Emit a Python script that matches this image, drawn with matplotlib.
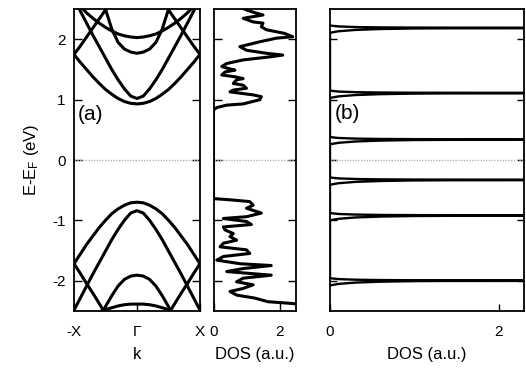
import matplotlib
matplotlib.use("Agg")
import matplotlib.pyplot as plt

plt.rcParams["font.family"] = ["Liberation Sans", "DejaVu Sans"]
plt.rcParams["mathtext.fontset"] = "custom"
plt.rcParams["mathtext.rm"] = "Liberation Sans"
plt.rcParams["mathtext.it"] = "Liberation Sans:italic"
plt.rcParams["axes.unicode_minus"] = False

# --- band structure (a), read at k >= 0 (Gamma -> X), mirrored for -X
k_half = [0.0, 0.1, 0.2, 0.3, 0.4, 0.5, 0.6, 0.7, 0.8, 0.9, 1.0]
c1 = [0.93, 0.94, 0.97, 1.02, 1.09, 1.17, 1.27, 1.38, 1.50, 1.62, 1.75]
c2 = [1.02, 1.06, 1.18, 1.33, 1.50, 1.69, 1.88, 2.07, 2.27, 2.47, 2.67]
c3 = [1.77, 1.79, 1.84, 1.95, 2.17, 2.50, 2.90]
c4 = [2.03, 2.04, 2.06, 2.09, 2.14, 2.20, 2.27, 2.35, 2.44, 2.55, 2.68]
v1 = [-0.70, -0.71, -0.75, -0.81, -0.89, -1.00, -1.12, -1.26, -1.40, -1.56, -1.72]
v2 = [-0.84, -0.88, -1.00, -1.15, -1.32, -1.51, -1.70, -1.89, -2.09, -2.29, -2.49]
v3 = [-1.91, -1.925, -1.98, -2.09, -2.25, -2.43, -2.62]
v4 = [-2.39, -2.39, -2.40, -2.42, -2.45, -2.48, -2.52, -2.56]
# branches folding back from the zone edge X
fold_k = [0.4, 0.5, 0.6, 0.7, 0.8, 0.9, 1.0]
c1_fold = [2.64, 2.49, 2.34, 2.19, 2.04, 1.89, 1.75]
v1_fold = [-2.72, -2.55, -2.38, -2.21, -2.05, -1.88, -1.72]

# --- DOS of panel (a), energy (eV) vs DOS (a.u.)
dos_E = [2.56, 2.52, 2.46, 2.405, 2.35, 2.29, 2.27, 2.21, 2.16, 2.10, 2.045,
         2.02, 1.96, 1.88, 1.82, 1.77, 1.74, 1.71, 1.66, 1.60, 1.55, 1.51,
         1.49, 1.46, 1.41, 1.38, 1.35, 1.33, 1.27, 1.24, 1.19, 1.16, 1.13,
         1.08, 1.05, 1.00, 0.93, 0.91, 0.87, 0.83,
         -0.64, -0.66, -0.69, -0.75, -0.80, -0.88, -0.94, -0.97, -1.02,
         -1.07, -1.11, -1.16, -1.22, -1.27, -1.33, -1.38, -1.44, -1.49,
         -1.55, -1.60, -1.66, -1.72, -1.75, -1.80, -1.85, -1.91, -1.96,
         -2.02, -2.07, -2.13, -2.18, -2.24, -2.29, -2.35, -2.38, -2.41]
dos_V = [0.80, 0.85, 1.15, 1.50, 0.90, 1.20, 1.50, 1.45, 1.60, 2.15, 2.40,
         1.90, 1.40, 0.80, 1.00, 1.60, 2.10, 1.70, 0.90, 0.40, 0.25, 0.50,
         0.65, 0.35, 0.25, 0.65, 0.90, 0.70, 0.60, 0.90, 1.00, 0.60, 0.50,
         1.20, 1.45, 1.40, 0.90, 0.40, 0.10, 0.0,
         0.0, 0.50, 1.10, 1.20, 1.00, 1.45, 1.00, 0.30, 1.00,
         1.15, 0.30, 0.35, 0.60, 0.50, 0.70, 0.30, 0.20, 1.00,
         1.10, 0.30, 0.10, 0.80, 1.75, 0.90, 0.40, 1.75, 0.90,
         0.70, 1.20, 0.90, 0.50, 0.70, 1.25, 1.65, 2.40, 2.80]

# --- DOS of panel (b): narrow peaks
peak_E = [-2.00, -0.92, -0.33, 0.34, 1.11, 2.19]
spike_dos = [0.0, 0.1, 0.3, 0.6, 1.0, 1.4, 3.0]
spike_lo = [0.08, 0.055, 0.033, 0.018, 0.009, 0.006, 0.005]
spike_hi = [0.04, 0.025, 0.015, 0.009, 0.006, 0.005, 0.004]

W, H = 526, 373
bottom = 1 - 310.75 / H
height = 301.5 / H
fig = plt.figure(figsize=(W / 100, H / 100), dpi=100)
ax1 = fig.add_axes([74 / W, bottom, 126 / W, height])
ax2 = fig.add_axes([213.5 / W, bottom, 82.5 / W, height])
ax3 = fig.add_axes([330 / W, bottom, 194 / W, height])

lw = 2.2


def mirror(ks, es):
    kk = [-x for x in reversed(ks)] + list(ks[1:])
    ee = list(reversed(es)) + list(es[1:])
    return kk, ee


for band in [c1, c2, c3, c4, v1, v2, v3, v4]:
    kk, ee = mirror(k_half[:len(band)], band)
    ax1.plot(kk, ee, color="black", lw=lw, solid_capstyle="round")
for fk, fe in [(fold_k, c1_fold), (fold_k, v1_fold)]:
    ax1.plot(fk, fe, color="black", lw=lw)
    ax1.plot([-x for x in fk], fe, color="black", lw=lw)

ax2.plot(dos_V, dos_E, color="black", lw=lw, solid_joinstyle="round")

# build the peak curve of (b)
bx, by = [], []
for e0 in peak_E:
    for d, lo in zip(spike_dos, spike_lo):
        bx.append(d)
        by.append(e0 - lo)
    for d, hi in zip(reversed(spike_dos), reversed(spike_hi)):
        bx.append(d)
        by.append(e0 + hi)
ax3.plot(bx, by, color="black", lw=1.7)

for ax in (ax1, ax2, ax3):
    ax.axhline(0, color="#b5b5b5", lw=1.0, ls=(0, (1, 1)))
    ax.set_ylim(-2.5, 2.5)
    ax.set_yticks([-2, -1, 0, 1, 2])
    for s in ax.spines.values():
        s.set_linewidth(1.3)
    ax.tick_params(direction="in", right=True, top=False, labelsize=11,
                   length=6, width=1.0, pad=10)

ax1.set_xlim(-1, 1)
ax1.set_xticks([-1, 0, 1])
ax1.set_xticklabels(["-X", "\u0393", "X"])
ax1.tick_params(axis="y", pad=6)
ax1.set_xlabel("k", fontsize=12, labelpad=6)
ax1.set_ylabel("E-E$_\\mathrm{F}$ (eV)", fontsize=12, labelpad=8)
ax1.text(-0.94, 0.75, "(a)", fontsize=15, va="center", ha="left")

ax2.set_xlim(0, 2.5)
ax2.set_xticks([0, 2])
ax2.set_xticklabels(["0", "2"])
ax2.set_yticklabels([])
ax2.set_xlabel("DOS (a.u.)", fontsize=12, labelpad=6)

ax3.set_xlim(0, 2.3)
ax3.set_xticks([0, 2])
ax3.set_xticklabels(["0", "2"])
ax3.set_yticklabels([])
ax3.tick_params(length=5)
ax3.set_xlabel("DOS (a.u.)", fontsize=12, labelpad=6)
ax3.text(0.06, 0.77, "(b)", fontsize=15, va="center", ha="left")

fig.savefig("out.png", dpi=100)
